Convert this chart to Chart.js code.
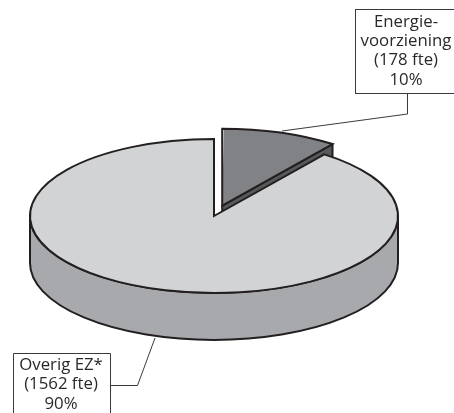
<!DOCTYPE html>
<html>
<head>
<meta charset="utf-8">
<style>
html,body{margin:0;padding:0;background:#fff;width:454px;height:413px;overflow:hidden}
#wrap{width:454px;height:413px;position:relative}
canvas{display:block}
</style>
<script src="https://cdn.jsdelivr.net/npm/chart.js@4"></script>
</head>
<body>
<div id="wrap"><canvas id="c" width="454" height="413"></canvas></div>
<script>
const categories = ['Energievoorziening', 'Overig EZ*'];
const fteValues = [178, 1562];
const sliceColors = ['#808285', '#d1d3d4'];
const wallColors = ['#58595b', '#a7a9ac'];
const sliceOffsets = [104, 0];
const energyLabel = ['Energie-', 'voorziening', '(178 fte)', '10%'];
const otherLabel = ['Overig EZ*', '(1562 fte)', '90%'];

const RADIUS = 184, SQUASH = 0.4185, DEPTH = 47, INK = '#231f20';

function shift(arc) {
  const off = (arc.options.offset || 0) / 4;
  const mid = (arc.startAngle + arc.endAngle) / 2;
  return {x: arc.x + Math.cos(mid) * off, y: arc.y + Math.sin(mid) * off * SQUASH};
}
function point(c, a, dy) {
  return {x: c.x + Math.cos(a) * RADIUS, y: c.y + Math.sin(a) * RADIUS * SQUASH + (dy || 0)};
}
const pie3d = {
  id: 'pie3d',
  beforeDatasetsDraw(chart) {
    const ctx = chart.ctx, arcs = chart.getDatasetMeta(0).data;
    arcs.forEach(arc => {
      const off = (arc.options.offset || 0) / 4;
      const fix = 1 - Math.sin(Math.min(Math.PI, arc.circumference || 0));
      arc.outerRadius = RADIUS - off * fix;
    });
    ctx.save();
    ctx.lineWidth = 2; ctx.strokeStyle = INK; ctx.lineJoin = 'round';
    // cut face of the exploded slice, seen through the gap
    const e = arcs[0], ec = shift(e), p0 = ec, p1 = point(ec, e.endAngle);
    ctx.beginPath();
    ctx.moveTo(p0.x, p0.y); ctx.lineTo(p1.x, p1.y);
    ctx.lineTo(p1.x, p1.y + DEPTH); ctx.lineTo(p0.x, p0.y + DEPTH); ctx.closePath();
    ctx.fillStyle = wallColors[0]; ctx.fill(); ctx.stroke();
    // outer wall of the main slice
    const m = arcs[1], mc = shift(m);
    ctx.beginPath();
    ctx.ellipse(mc.x, mc.y, RADIUS, RADIUS * SQUASH, 0, 0, Math.PI);
    ctx.ellipse(mc.x, mc.y + DEPTH, RADIUS, RADIUS * SQUASH, 0, Math.PI, 0, true);
    ctx.closePath();
    ctx.fillStyle = wallColors[1]; ctx.fill(); ctx.stroke();
    ctx.restore();
    // squash the library's pie into perspective
    ctx.save();
    const cy = m.y;
    ctx.translate(0, cy); ctx.scale(1, SQUASH); ctx.translate(0, -cy);
  },
  afterDatasetsDraw(chart) {
    const ctx = chart.ctx, arcs = chart.getDatasetMeta(0).data;
    ctx.restore();
    ctx.save();
    ctx.lineWidth = 2; ctx.strokeStyle = INK; ctx.lineJoin = 'miter';
    arcs.forEach(arc => {
      const c = shift(arc);
      ctx.beginPath();
      ctx.moveTo(c.x, c.y);
      ctx.ellipse(c.x, c.y, RADIUS, RADIUS * SQUASH, 0, arc.startAngle, arc.endAngle);
      ctx.closePath();
      ctx.stroke();
    });
    ctx.restore();
  },
  afterDraw(chart) {
    const ctx = chart.ctx;
    ctx.save();
    ctx.strokeStyle = '#3a3a3c'; ctx.lineWidth = 1;
    const poly = pts => { ctx.beginPath(); pts.forEach((p, i) => i ? ctx.lineTo(p[0], p[1]) : ctx.moveTo(p[0], p[1])); ctx.stroke(); };
    poly([[407.5, 94], [407.5, 114], [282, 131]]);
    poly([[155, 338], [137.5, 385.5], [110, 385.5]]);
    ctx.fillStyle = '#fff';
    ctx.fillRect(355, 9, 99, 85);
    ctx.strokeRect(355.5, 9.5, 99, 84);
    poly([[13.5, 413], [13.5, 353.5], [110.5, 353.5], [110.5, 413]]);
    ctx.fillStyle = '#2b2829';
    ctx.font = '16.8px "Open Sans", Arial, sans-serif';
    ctx.textAlign = 'center'; ctx.textBaseline = 'middle';
    energyLabel.forEach((t, i) => ctx.fillText(t, 406, 22 + i * 19.3));
    otherLabel.forEach((t, i) => ctx.fillText(t, 61, 365 + i * 19.5));
    ctx.restore();
  }
};
new Chart(document.getElementById('c'), {
  type: 'pie',
  data: {
    labels: categories,
    datasets: [{data: fteValues, backgroundColor: sliceColors, borderWidth: 0, offset: sliceOffsets}]
  },
  options: {
    responsive: false,
    animation: false,
    events: [],
    radius: RADIUS,
    layout: {padding: {left: 0, right: 26, top: 19, bottom: 0}},
    plugins: {legend: {display: false}, tooltip: {enabled: false}, title: {display: false}}
  },
  plugins: [pie3d]
});
</script>
</body>
</html>
